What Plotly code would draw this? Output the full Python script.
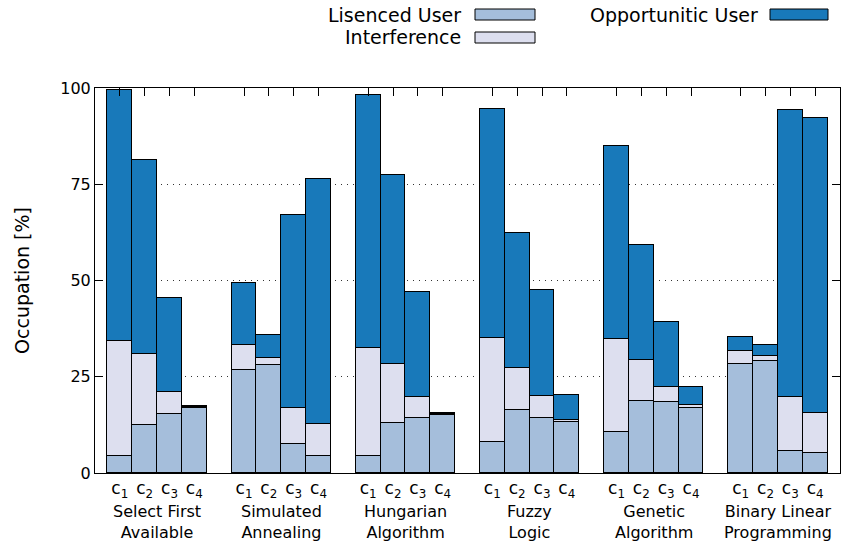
import plotly.graph_objects as go

groups = ["Select First<br>Available", "Simulated<br>Annealing", "Hungarian<br>Algorithm",
          "Fuzzy<br>Logic", "Genetic<br>Algorithm", "Binary Linear<br>Programming"]
channels = ["c<sub>1</sub>", "c<sub>2</sub>", "c<sub>3</sub>", "c<sub>4</sub>"]

licensed = [4.4, 12.5, 15.3, 17.0,
            26.8, 28.1, 7.5, 4.4,
            4.4, 13.0, 14.3, 15.0,
            8.1, 16.4, 14.3, 13.2,
            10.6, 18.7, 18.4, 16.9,
            28.3, 29.1, 5.7, 5.2]
interference = [29.9, 18.4, 5.7, 0.1,
                6.4, 1.8, 9.4, 8.3,
                28.1, 15.3, 5.4, 0.3,
                27.0, 10.9, 5.7, 0.6,
                24.2, 10.7, 3.9, 0.8,
                3.4, 1.3, 14.0, 10.4]
opportunistic = [65.2, 50.4, 24.5, 0.2,
                 16.2, 5.9, 50.1, 63.7,
                 65.7, 49.1, 27.3, 0.4,
                 59.4, 35.0, 27.5, 6.5,
                 50.1, 29.8, 16.9, 4.6,
                 3.6, 2.8, 74.6, 76.6]
yticks = [0, 25, 50, 75, 100]

slot = len(channels) + 1
xpos = [g * slot + c for g in range(len(groups)) for c in range(len(channels))]
xlabels = [channels[c] for g in range(len(groups)) for c in range(len(channels))]

C_LU = "#a5bedb"
C_IN = "#dddfef"
C_OP = "#1879ba"
FONT = "DejaVu Sans"

fig = go.Figure()
for name, vals, col in [("Lisenced User", licensed, C_LU),
                        ("Interference", interference, C_IN),
                        ("Opportunitic User", opportunistic, C_OP)]:
    fig.add_trace(go.Bar(x=xpos, y=vals, name=name, width=1.0,
                         marker=dict(color=col, line=dict(color="black", width=1)),
                         showlegend=False))

W, H = 841, 543
L, R, T, B = 95, 1, 88, 70
pw, ph = W - L - R, H - T - B

def px(xp):
    return (xp - L) / pw

def py(yp):
    return (H - B - yp) / ph

xmax = xpos[-1]
fig.update_layout(
    width=W, height=H,
    margin=dict(l=L, r=R, t=T, b=B),
    barmode="stack", bargap=0,
    plot_bgcolor="white", paper_bgcolor="white",
    font=dict(family=FONT, size=16, color="black"),
    xaxis=dict(range=[-1, xmax + 1], tickvals=xpos, ticktext=xlabels,
               ticks="", showgrid=False, zeroline=False,
               showline=True, linecolor="black", linewidth=1, mirror=True,
               tickfont=dict(size=17)),
    xaxis2=dict(range=[-1, xmax + 1], tickvals=xpos, overlaying="x", side="top",
                ticks="inside", ticklen=8, tickcolor="black", showticklabels=False,
                showgrid=False, zeroline=False, showline=False),
    yaxis=dict(range=[0, 100], tickvals=yticks, ticks="inside", ticklen=8,
               tickcolor="black", showline=True, linecolor="black", linewidth=1,
               mirror="ticks", zeroline=False,
               showgrid=True, gridcolor="#333333", griddash="1px,5px", gridwidth=1,
               title=dict(text="Occupation [%]", standoff=25)),
)
# invisible trace to activate top tick axis
fig.add_trace(go.Scatter(x=[xpos[0]], y=[0], xaxis="x2", mode="markers",
                         marker=dict(opacity=0), showlegend=False, hoverinfo="skip"))

for g, name in enumerate(groups):
    fig.add_annotation(x=g * slot + (len(channels) - 1) / 2, y=py(522),
                       xref="x", yref="paper", text=name, showarrow=False,
                       yanchor="middle", xanchor="center", align="center",
                       font=dict(size=16))

# legend (gnuplot style: label then key box)
legend_items = [("Lisenced User", C_LU, 463, 475, 535, 14.5),
                ("Interference", C_IN, 463, 475, 535, 37.5),
                ("Opportunitic User", C_OP, 760, 770, 828, 14.5)]
for txt, col, tx, bx0, bx1, yc in legend_items:
    fig.add_annotation(x=px(tx), y=py(yc), xref="paper", yref="paper", text=txt,
                       showarrow=False, xanchor="right", yanchor="middle",
                       font=dict(size=19))
    fig.add_shape(type="rect", xref="paper", yref="paper",
                  x0=px(bx0), x1=px(bx1), y0=py(yc + 5.5), y1=py(yc - 5.5),
                  fillcolor=col, line=dict(color="black", width=1))

fig.write_html("out.html", config={"displayModeBar": False},
               post_script="document.body.style.margin='0';document.body.style.overflow='hidden';")
